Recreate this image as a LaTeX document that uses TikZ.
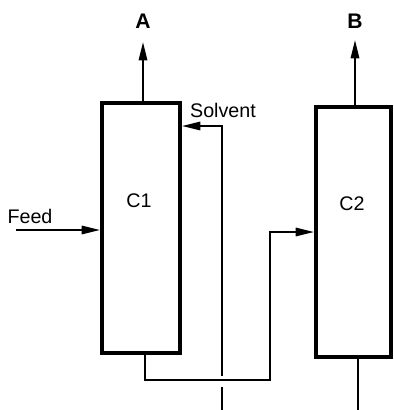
\documentclass[tikz,border=0pt]{standalone}
\usepackage{fontspec}
\setmainfont{Liberation Sans}
\usetikzlibrary{arrows.meta,positioning,calc}

\begin{document}
\begin{tikzpicture}[x=0.025cm, y=-0.025cm,
  column/.style={draw, line width=2.8pt, minimum width=1.95cm, minimum height=6.25cm, inner sep=0pt},
  line/.style={line width=1.3pt},
  stream/.style={line, -{Triangle[length=13pt,width=6pt]}},
  tag/.style={font=\fontsize{14pt}{16pt}\selectfont}
]
\useasboundingbox (0,0) rectangle (394,410);

% ================= COLUMNS =================
\node[column] (c1) at (141,228) {};
\node[column, minimum width=1.875cm] (c2) at (353.5,232) {};

\node[tag] (lc1) at (139,201) {C1};
\node[tag] (lc2) at (352,204) {C2};

% ================= PRODUCTS =================
\coordinate (outA) at (143,42);
\coordinate (outB) at (355,40);
\draw[stream] (c1.north -| outA) -- (outA);
\draw[stream] (c2.north -| outB) -- (outB);
\node[tag, font=\fontsize{15pt}{17pt}\selectfont\bfseries] (labA) at (143,21) {A};
\node[tag, font=\fontsize{15pt}{17pt}\selectfont\bfseries] (labB) at (355,21) {B};

% Feed
\coordinate (feedin) at (16,230);
\draw[stream] (feedin) -- (c1.west |- feedin);
\node[tag] (labfeed) at (30,216) {Feed};

% Solvent (broken where it passes the transfer line)
\coordinate (solvin) at (222,410);
\coordinate (solvup) at (222,126);
\draw[line] (solvin) -- (222,387);
\draw[stream] (222,376) -- (solvup) -- (solvup -| c1.east);
\node[tag] (labsolv) at (223,110) {Solvent};

% Bottoms of C1 to C2
\coordinate (bot1) at (145,380);
\coordinate (rise) at (270,232);
\draw[stream] (c1.south -| bot1) -- (bot1) -- (bot1 -| rise) -- (rise) -- (c2.west |- rise);

% Bottoms of C2
\coordinate (out2) at (358,410);
\draw[line] (c2.south -| out2) -- (out2);

\end{tikzpicture}
\end{document}
